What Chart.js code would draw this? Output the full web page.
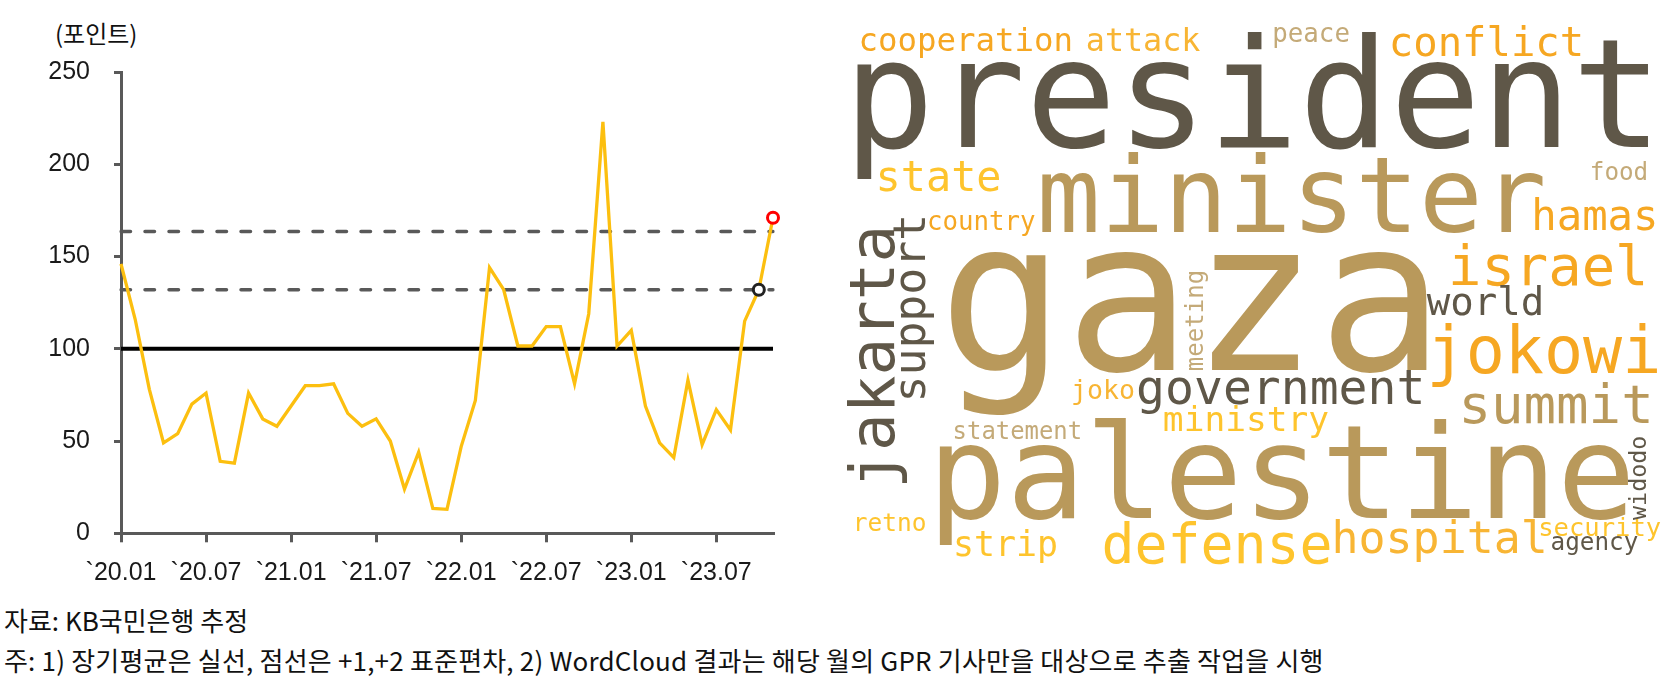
<!DOCTYPE html>
<html>
<head>
<meta charset="utf-8">
<script src="https://cdn.jsdelivr.net/npm/chart.js@4.4.1/dist/chart.umd.min.js"></script>
<style>
  body { margin: 0; background: #fff; }
  #wrap { position: relative; width: 1669px; height: 693px; overflow: hidden; background: #fff; }
  #gpr { position: absolute; left: 0; top: 0; }
  #cloud { position: absolute; left: 780px; top: 0; }
  .txt { position: absolute; font-family: 'Noto Sans CJK KR', sans-serif; color: #111; white-space: nowrap; }
</style>
</head>
<body>
<div id="wrap">
  <div class="txt" style="left:55px;top:17px;font-size:24px;line-height:32px;">(포인트)</div>
  <canvas id="gpr" width="800" height="600"></canvas>
  <canvas id="cloud" width="889" height="580"></canvas>
  <div class="txt" style="left:4px;top:603px;font-size:26px;line-height:34px;">자료: KB국민은행 추정</div>
  <div class="txt" style="left:4px;top:643px;font-size:26px;line-height:34px;letter-spacing:0.2px;">주: 1) 장기평균은 실선, 점선은 +1,+2 표준편차, 2) WordCloud 결과는 해당 월의 GPR 기사만을 대상으로 추출 작업을 시행</div>
</div>
<script>
(function () {
  'use strict';

  // monthly GPR index, `20.01 .. `23.11
  var MONTHS = [
    '`20.01','`20.02','`20.03','`20.04','`20.05','`20.06','`20.07','`20.08','`20.09','`20.10','`20.11','`20.12',
    '`21.01','`21.02','`21.03','`21.04','`21.05','`21.06','`21.07','`21.08','`21.09','`21.10','`21.11','`21.12',
    '`22.01','`22.02','`22.03','`22.04','`22.05','`22.06','`22.07','`22.08','`22.09','`22.10','`22.11','`22.12',
    '`23.01','`23.02','`23.03','`23.04','`23.05','`23.06','`23.07','`23.08','`23.09','`23.10','`23.11'
  ];
  var GPR = [146, 116, 78, 49, 54, 70, 76, 39, 38, 76, 62, 58,
             69, 80, 80, 81, 65, 58, 62, 50, 24, 44, 13.5, 13,
             47, 72, 144, 132, 101.5, 101.5, 112, 112, 81, 119, 223, 101.5,
             110, 69, 49, 41, 83, 48, 67, 56, 115, 132, 171];
  var LONG_MEAN = 100;
  var PLUS_1SD = 132;
  var PLUS_2SD = 163.5;
  var Y_MIN = 0, Y_MAX = 250, Y_STEP = 50;

  // word cloud terms
  var WORDS = ['cooperation', 'attack', 'peace', 'conflict', 'president', 'state', 'minister', 'food',
               'hamas', 'country', 'israel', 'gaza', 'world', 'jokowi', 'government', 'joko', 'summit',
               'ministry', 'statement', 'palestine', 'retno', 'strip', 'defense', 'hospital', 'security',
               'agency', 'jakarta', 'support', 'meeting', 'widodo'];

  var AXIS = '#595959';
  var TICK_FONT = { family: "'Liberation Sans', Arial, sans-serif", size: 25 };

  var last = GPR.length - 1;
  var ptRadius = GPR.map(function (v, i) { return i >= last - 1 ? 5.5 : 0; });
  var ptBorder = GPR.map(function (v, i) { return i === last ? '#ff0000' : '#222'; });
  function flat(v) { return MONTHS.map(function () { return v; }); }

  new Chart(document.getElementById('gpr').getContext('2d'), {
    type: 'line',
    data: {
      labels: MONTHS,
      datasets: [
        { data: GPR, borderColor: '#fcbf0f', borderWidth: 3.3, tension: 0, clip: false,
          pointRadius: ptRadius, pointBorderColor: ptBorder, pointBackgroundColor: '#fff',
          pointBorderWidth: 3, pointHoverRadius: ptRadius },
        { data: flat(LONG_MEAN), borderColor: '#000', borderWidth: 4, pointRadius: 0 },
        { data: flat(PLUS_1SD), borderColor: AXIS, borderWidth: 3.5, borderDash: [9.5, 14.5],
          borderCapStyle: 'round', pointRadius: 0 },
        { data: flat(PLUS_2SD), borderColor: AXIS, borderWidth: 3.5, borderDash: [9.5, 14.5],
          borderCapStyle: 'round', pointRadius: 0 }
      ]
    },
    options: {
      responsive: false, animation: false,
      layout: { padding: { left: 0, top: 72, right: 27, bottom: 0 } },
      plugins: { legend: { display: false }, tooltip: { enabled: false } },
      scales: {
        x: {
          offset: false,
          grid: { drawOnChartArea: false, tickLength: 9, color: AXIS, lineWidth: 3 },
          border: { display: true, color: AXIS, width: 3 },
          ticks: {
            autoSkip: false, maxRotation: 0, padding: 16, color: '#1a1a1a', font: TICK_FONT,
            callback: function (v, i) { return i % 6 === 0 ? this.getLabelForValue(v) : null; }
          },
          afterFit: function (s) { s.height = 66.7; }
        },
        y: {
          min: Y_MIN, max: Y_MAX,
          grid: { drawOnChartArea: false, tickLength: 7, color: AXIS, lineWidth: 3 },
          border: { display: true, color: AXIS, width: 3 },
          ticks: { stepSize: Y_STEP, padding: 24, color: '#1a1a1a', font: TICK_FONT },
          afterFit: function (s) { s.width = 121; }
        }
      }
    }
  });

  // word cloud layout: [left, baseline, ink length, colour, rotated]
  // rotated words: [baseline x, bottom y, ink length, colour, 1]
  var C = { dark: '#5f5748', tan: '#b9995b', light: '#c4aa78', orange: '#f6a722', gold: '#f8b534', yellow: '#fec42d' };
  var CLOUD_BOX = [
    [81.5, 50.7, 209, C.orange, 0],
    [307.7, 50.7, 112.3, C.gold, 0],
    [494.6, 41.7, 74, C.light, 0],
    [612.5, 56, 188, C.orange, 0],
    [77, 146.7, 792, C.dark, 0],
    [99.7, 190.7, 119.7, C.yellow, 0],
    [262, 231.7, 501, C.tan, 0],
    [812, 180, 54, C.light, 0],
    [755, 230, 119.7, C.orange, 0],
    [149.3, 230, 105.4, C.orange, 0],
    [672.4, 285, 191, C.orange, 0],
    [171, 370, 476, C.tan, 0],
    [646.7, 315, 114, C.dark, 0],
    [652.4, 373.3, 225, C.orange, 0],
    [359, 404, 282, C.dark, 0],
    [293.4, 399, 60, C.gold, 0],
    [683.8, 423.3, 185, C.tan, 0],
    [384.6, 431, 163.5, C.yellow, 0],
    [175, 439, 125, C.light, 0],
    [159.5, 518, 689.5, C.tan, 0],
    [77, 531, 68, C.yellow, 0],
    [176.6, 556, 99.7, C.yellow, 0],
    [324.8, 563, 225, C.yellow, 0],
    [555.6, 553, 208, C.gold, 0],
    [760.7, 536, 119.7, C.yellow, 0],
    [772, 550, 85.5, C.dark, 0],
    [114, 483, 253, C.dark, 1],
    [145, 398, 180, C.dark, 1],
    [423, 370, 98, C.light, 1],
    [866, 520, 83, C.dark, 1]
  ];

  var cloudWords = {
    id: 'cloudWords',
    afterDraw: function (chart) {
      var ctx = chart.ctx, sx = chart.scales.x, sy = chart.scales.y;
      WORDS.forEach(function (w, i) {
        var b = CLOUD_BOX[i];
        var px = sx.getPixelForValue(b[0]), py = sy.getPixelForValue(b[1]);
        var len = b[4] ? Math.abs(sy.getPixelForValue(b[1] - b[2]) - py)
                       : Math.abs(sx.getPixelForValue(b[0] + b[2]) - px);
        ctx.save();
        ctx.font = '100px "DejaVu Sans Mono"';
        var m = ctx.measureText(w);
        var k = len / (m.actualBoundingBoxLeft + m.actualBoundingBoxRight);
        ctx.font = (100 * k).toFixed(2) + 'px "DejaVu Sans Mono"';
        ctx.fillStyle = b[3];
        ctx.textAlign = 'left';
        ctx.textBaseline = 'alphabetic';
        ctx.translate(px, py);
        if (b[4]) ctx.rotate(-Math.PI / 2);
        ctx.fillText(w, m.actualBoundingBoxLeft * k, 0);
        ctx.restore();
      });
    }
  };

  new Chart(document.getElementById('cloud').getContext('2d'), {
    type: 'scatter',
    data: { datasets: [{ data: [] }] },
    options: {
      responsive: false, animation: false,
      layout: { padding: 0 },
      plugins: { legend: { display: false }, tooltip: { enabled: false } },
      scales: {
        x: { display: false, min: 0, max: 889 },
        y: { display: false, min: 0, max: 580, reverse: true }
      }
    },
    plugins: [cloudWords]
  });
})();
</script>
</body>
</html>
